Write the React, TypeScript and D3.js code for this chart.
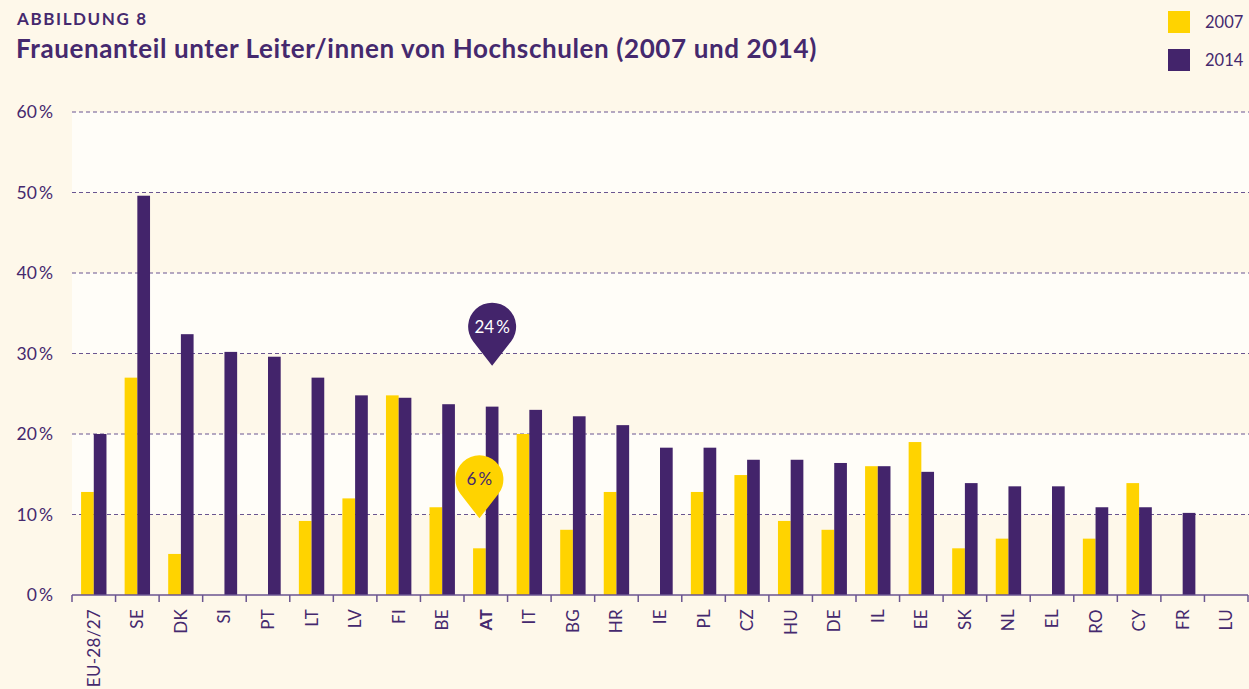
import React from "react";
import * as d3 from "d3";

const categories = ["EU-28/27","SE","DK","SI","PT","LT","LV","FI","BE","AT","IT","BG","HR","IE","PL","CZ","HU","DE","IL","EE","SK","NL","EL","RO","CY","FR","LU"];
const values2007: (number | null)[] = [12.8,27,5.1,null,null,9.2,12,24.8,10.9,5.8,20.0,8.1,12.8,null,12.8,14.9,9.2,8.1,16,19,5.8,7,null,7,13.9,null,null];
const values2014: (number | null)[] = [20,49.6,32.4,30.2,29.6,27,24.8,24.5,23.7,23.4,23,22.2,21.1,18.3,18.3,16.8,16.8,16.4,16,15.3,13.9,13.5,13.5,10.9,10.9,10.2,null];
const yTicks = [0,10,20,30,40,50,60];
const seriesNames = ["2007","2014"];
const highlight = "AT";
const highlightLabels = ["6\u2009%","24\u2009%"];

const W = 1249, H = 689;
const YELLOW = "#FFD300";
const PURPLE = "#43246B";
const TEXT = "#45296E";
const CREAM = "#FEF8EA";
const WHITE = "#FFFDF8";
const FONT = "Lato, 'Open Sans', sans-serif";

function pinPath(cx: number, tipY: number, r: number, h: number) {
  const cy = tipY - h;
  const beta = Math.acos(r / h);
  const px = r * Math.sin(beta), py = r * Math.cos(beta);
  return `M${cx},${tipY} L${cx + px},${cy + py} A${r},${r} 0 1 0 ${cx - px},${cy + py} Z`;
}

export default function App() {
  const x = d3.scaleBand<string>().domain(categories).range([72, 1248]).padding(0);
  const y = d3.scaleLinear().domain([0, 60]).range([595, 112]);
  const bw = 12.7;
  const cols = [YELLOW, PURPLE];
  const series = [values2007, values2014];
  const hi = categories.indexOf(highlight);
  const hc = (x(highlight) as number) + x.bandwidth() / 2;

  return (
    <div style={{ position: "absolute", left: 0, top: 0 }}>
      <svg width={W} height={H} style={{ display: "block", fontFamily: FONT }}>
        <rect x={0} y={0} width={W} height={H} fill={CREAM} />
        {yTicks.slice(1).map((t, i) =>
          (i % 2 === 1) ? (
            <rect key={"band" + t} x={72} y={y(t)} width={W - 72} height={y(t - 10) - y(t)} fill={WHITE} />
          ) : null
        )}
        {yTicks.slice(1).map((t) => (
          <line key={"g" + t} x1={72} x2={W} y1={y(t)} y2={y(t)} stroke="#6A5590" strokeWidth={1.2} strokeDasharray="4 3" />
        ))}
        {yTicks.map((t) => (
          <text key={"yt" + t} x={53} y={y(t)} dy="0.35em" textAnchor="end" fontSize={17.5} fill={TEXT}>{t + "\u2009%"}</text>
        ))}
        {categories.map((c, i) => {
          const cx = (x(c) as number) + x.bandwidth() / 2;
          return (
            <g key={c}>
              {series.map((s, k) => {
                const v = s[i];
                if (v == null) return null;
                const bx = k === 0 ? cx - bw : cx;
                return <rect key={k} x={bx} y={y(v)} width={bw} height={y(0) - y(v)} fill={cols[k]} />;
              })}
            </g>
          );
        })}
        <line x1={72} x2={1248} y1={y(0)} y2={y(0)} stroke="#6A5590" strokeWidth={1.5} />
        {d3.range(categories.length + 1).map((i) => {
          const tx = 72 + i * x.step();
          return <line key={"tk" + i} x1={tx} x2={tx} y1={y(0)} y2={y(0) + 7} stroke="#6A5590" strokeWidth={1.5} />;
        })}
        {categories.map((c) => {
          const cx = (x(c) as number) + x.bandwidth() / 2;
          return (
            <text key={"xl" + c} transform={`translate(${cx},${609}) rotate(-90)`} textAnchor="end" dy="0.35em" fontSize={17} letterSpacing={0.3} fill={TEXT} fontWeight={c === highlight ? 700 : 400}>{c}</text>
          );
        })}
        {(() => {
          const vy = values2007[hi] as number, vp = values2014[hi] as number;
          const yellowCx = hc - bw / 2, purpleCx = hc + bw / 2;
          const tipY1 = y(vy) - 30, tipY2 = y(vp) - 41;
          return (
            <g>
              <path d={pinPath(yellowCx, tipY1, 24, 39)} fill={YELLOW} />
              <text x={yellowCx} y={tipY1 - 39} dy="0.35em" textAnchor="middle" fontSize={17} fill={TEXT}>{highlightLabels[0]}</text>
              <path d={pinPath(purpleCx, tipY2, 24, 39)} fill={PURPLE} />
              <text x={purpleCx} y={tipY2 - 39} dy="0.35em" textAnchor="middle" fontSize={17} fill="#FFFFFF">{highlightLabels[1]}</text>
            </g>
          );
        })()}
        <text x={17} y={25} fontSize={17} fontWeight={700} fill={TEXT} letterSpacing={1.6}>ABBILDUNG 8</text>
        <text x={16} y={58} fontSize={26} fontWeight={700} fill={TEXT} letterSpacing={0.6}>Frauenanteil unter Leiter/innen von Hochschulen (2007 und 2014)</text>
        {seriesNames.map((n, k) => (
          <g key={n}>
            <rect x={1168} y={11 + k * 38} width={22} height={22} fill={cols[k]} />
            <text x={1205} y={22 + k * 38} dy="0.35em" fontSize={16.5} fill={TEXT}>{n}</text>
          </g>
        ))}
      </svg>
    </div>
  );
}
